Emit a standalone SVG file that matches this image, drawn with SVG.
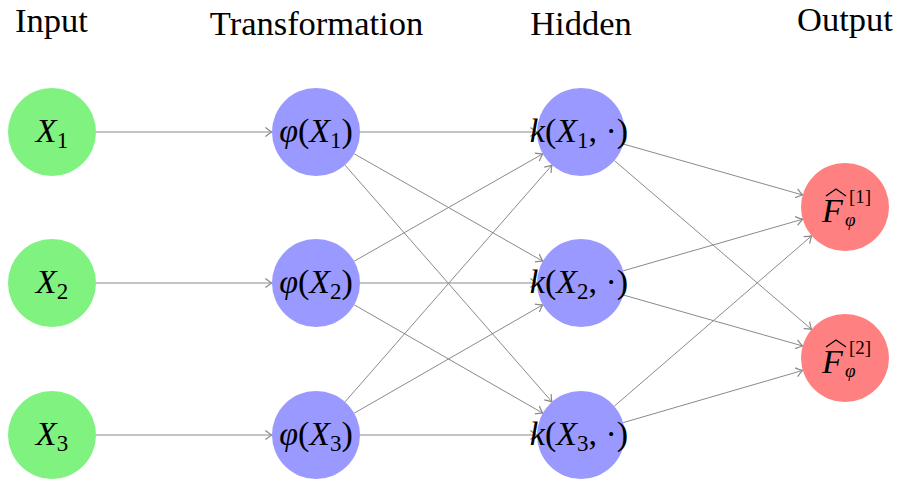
<svg xmlns="http://www.w3.org/2000/svg" width="901" height="481" viewBox="0 0 901 481">
<style>
text{font-family:'Liberation Serif','Times New Roman',serif;fill:#000}
.hdr{font-size:34.5px;text-anchor:middle}
.m{font-size:34px;text-anchor:middle}
.f{font-size:34px;text-anchor:start}
.i{font-style:italic}
.sub{font-size:23px}
.sm{font-size:19px}
.in{fill:#80f280}
.hid{fill:#9999ff}
.out{fill:#ff8080}
.e{stroke:#8a8a8a;stroke-width:1;fill:none;marker-end:url(#arr)}
</style>
<defs>
<marker id="arr" markerUnits="userSpaceOnUse" markerWidth="12" markerHeight="12" viewBox="-7 -5 8 10" refX="0" refY="0" orient="auto">
<path d="M-5.5,-3.8 Q-2,-1 0,0 Q-2,1 -5.5,3.8" fill="none" stroke="#8a8a8a" stroke-width="1"/>
</marker>
</defs>
<g id="headers">
<text class="hdr" x="51.5" y="32">Input</text>
<text class="hdr" x="316.5" y="35">Transformation</text>
<text class="hdr" x="581" y="35">Hidden</text>
<text class="hdr" x="845" y="31">Output</text>
</g>
<g id="connectors">
<line class="e" x1="96" y1="132" x2="272" y2="132"/>
<line class="e" x1="96" y1="283" x2="272" y2="283"/>
<line class="e" x1="96" y1="435" x2="272" y2="435"/>
<line class="e" x1="360" y1="132" x2="537" y2="132"/>
<line class="e" x1="354.2" y1="153.8" x2="542.8" y2="261.2"/>
<line class="e" x1="345" y1="165.1" x2="552" y2="401.9"/>
<line class="e" x1="354.2" y1="261.2" x2="542.8" y2="153.8"/>
<line class="e" x1="360" y1="283" x2="537" y2="283"/>
<line class="e" x1="354.2" y1="304.8" x2="542.8" y2="413.2"/>
<line class="e" x1="345" y1="401.9" x2="552" y2="165.1"/>
<line class="e" x1="354.2" y1="413.2" x2="542.8" y2="304.8"/>
<line class="e" x1="360" y1="435" x2="537" y2="435"/>
<line class="e" x1="623.3" y1="144" x2="802.7" y2="195"/>
<line class="e" x1="614.4" y1="160.6" x2="811.6" y2="329.4"/>
<line class="e" x1="623.3" y1="270.8" x2="802.7" y2="219.2"/>
<line class="e" x1="623.3" y1="295" x2="802.7" y2="346"/>
<line class="e" x1="614.3" y1="406.2" x2="811.7" y2="235.8"/>
<line class="e" x1="623.3" y1="422.6" x2="802.7" y2="370.4"/>
</g>
<g id="x1"><circle class="in" cx="52" cy="132" r="44"/><text class="m" x="52" y="142"><tspan class="i">X</tspan><tspan class="sub" dy="6">1</tspan></text></g>
<g id="x2"><circle class="in" cx="52" cy="283" r="44"/><text class="m" x="52" y="293"><tspan class="i">X</tspan><tspan class="sub" dy="6">2</tspan></text></g>
<g id="x3"><circle class="in" cx="52" cy="435" r="44"/><text class="m" x="52" y="445"><tspan class="i">X</tspan><tspan class="sub" dy="6">3</tspan></text></g>
<g id="phi1"><circle class="hid" cx="316" cy="132" r="44"/><text class="m" x="316" y="142"><tspan class="i">φ</tspan>(<tspan class="i">X</tspan><tspan class="sub" dy="6">1</tspan><tspan dy="-6">)</tspan></text></g>
<g id="phi2"><circle class="hid" cx="316" cy="283" r="44"/><text class="m" x="316" y="293"><tspan class="i">φ</tspan>(<tspan class="i">X</tspan><tspan class="sub" dy="6">2</tspan><tspan dy="-6">)</tspan></text></g>
<g id="phi3"><circle class="hid" cx="316" cy="435" r="44"/><text class="m" x="316" y="445"><tspan class="i">φ</tspan>(<tspan class="i">X</tspan><tspan class="sub" dy="6">3</tspan><tspan dy="-6">)</tspan></text></g>
<g id="k1"><circle class="hid" cx="581" cy="132" r="44"/><text class="m" x="579" y="142"><tspan class="i">k</tspan>(<tspan class="i">X</tspan><tspan class="sub" dy="6">1</tspan><tspan dy="-6">, ·)</tspan></text></g>
<g id="k2"><circle class="hid" cx="581" cy="283" r="44"/><text class="m" x="579" y="293"><tspan class="i">k</tspan>(<tspan class="i">X</tspan><tspan class="sub" dy="6">2</tspan><tspan dy="-6">, ·)</tspan></text></g>
<g id="k3"><circle class="hid" cx="581" cy="435" r="44"/><text class="m" x="579" y="445"><tspan class="i">k</tspan>(<tspan class="i">X</tspan><tspan class="sub" dy="6">3</tspan><tspan dy="-6">, ·)</tspan></text></g>
<g id="f1"><circle class="out" cx="845" cy="207" r="44"/>
<polyline points="826,196 836,189 846,196" fill="none" stroke="#000" stroke-width="1.2"/>
<text class="f" x="822" y="222"><tspan class="i">F</tspan><tspan class="sm" x="849" y="203">[1]</tspan><tspan class="i sm" x="845" y="226">φ</tspan></text>
</g>
<g id="f2"><circle class="out" cx="845" cy="358" r="44"/>
<polyline points="826,347 836,340 846,347" fill="none" stroke="#000" stroke-width="1.2"/>
<text class="f" x="822" y="373"><tspan class="i">F</tspan><tspan class="sm" x="849" y="354">[2]</tspan><tspan class="i sm" x="845" y="377">φ</tspan></text>
</g>
</svg>
